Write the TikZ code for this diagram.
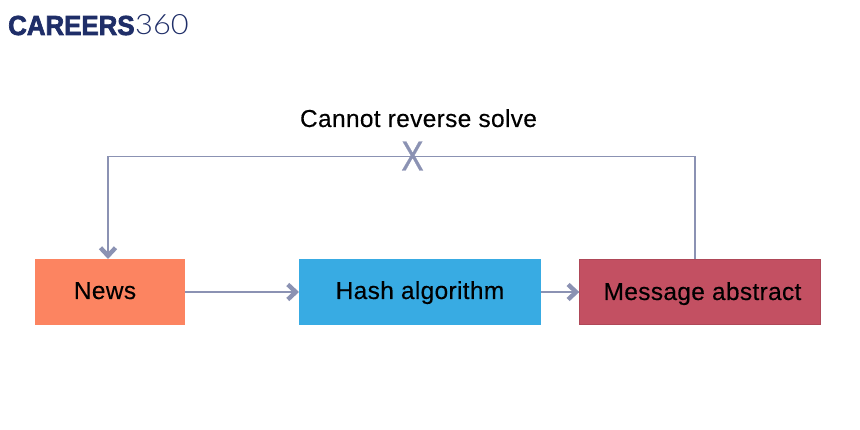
\documentclass[tikz,border=0pt]{standalone}
\usepackage{fontspec}
\setmainfont{Liberation Sans}[FakeBold=0.25,LetterSpace=1.3]
\newfontfamily\logobold{Liberation Sans}[UprightFont=* Bold,FakeBold=2.5,FakeStretch=0.94]
\newfontfamily\logolight{Lato}[UprightFont=* Light,FakeStretch=1.1]
\newfontfamily\crossfont{Liberation Sans}[FakeBold=0.5,FakeStretch=0.8]
\usetikzlibrary{arrows.meta,calc}
\definecolor{linec}{HTML}{8B92B3}
\definecolor{newsc}{HTML}{FC8461}
\definecolor{hashc}{HTML}{38ABE3}
\definecolor{msgc}{HTML}{C35062}
\definecolor{logoc}{HTML}{1F2E68}
\tikzset{
  x=1pt,y=-1pt,
  boxn/.style={draw=none,minimum height=66pt,inner sep=0pt,outer sep=0pt,anchor=north west},
  label/.style={font=\fontsize{24.5}{26}\selectfont,inner sep=0pt,anchor=base,text=black},
  conn/.style={draw=linec,line width=1.4pt,-{Straight Barb[length=8pt,width=15pt,line width=4.4pt,color=linec]}}
}
\begin{document}
\begin{tikzpicture}
\useasboundingbox (0,0) rectangle (860,430);
\node[boxn,fill=newsc,minimum width=150pt] (news) at (35,259) {};
\node[boxn,fill=hashc,minimum width=242pt] (hash) at (299,259) {};
\node[boxn,fill=msgc,draw=msgc!90!black,line width=.6pt,minimum width=241.4pt,minimum height=65.4pt] (msg) at (579.3,259.3) {};
\node[label] (newst) at (105,299) {News};
\node[label] (hasht) at (420,299) {Hash algorithm};
\node[label] (msgt) at (702.5,300) {Message abstract};
\node[label] (rev) at (418.5,127) {Cannot reverse solve};
\coordinate (c1) at (695,156.5);
\coordinate (c2) at (108,156.5);
\coordinate (c3) at (108,259);
\coordinate (c4) at (695,259);
\draw[conn] (c4) -- (c1) -- (c2) -- (c3);
\draw[conn] (news.east) -- (hash.west);
\draw[conn] (hash.east) -- (msg.west);
\node[font=\crossfont\fontsize{42}{44}\selectfont,text=linec,inner sep=0pt] (x) at (412.5,156) {X};
\node[font=\logobold\fontsize{27.5}{28}\selectfont,text=logoc,inner sep=0pt,anchor=base west] (logoa) at (8,35) {CAREERS};
\node[font=\logolight\fontsize{28}{28}\selectfont,text=logoc,inner sep=0pt,anchor=base west] (logob) at (135,35) {360};
\end{tikzpicture}
\end{document}
